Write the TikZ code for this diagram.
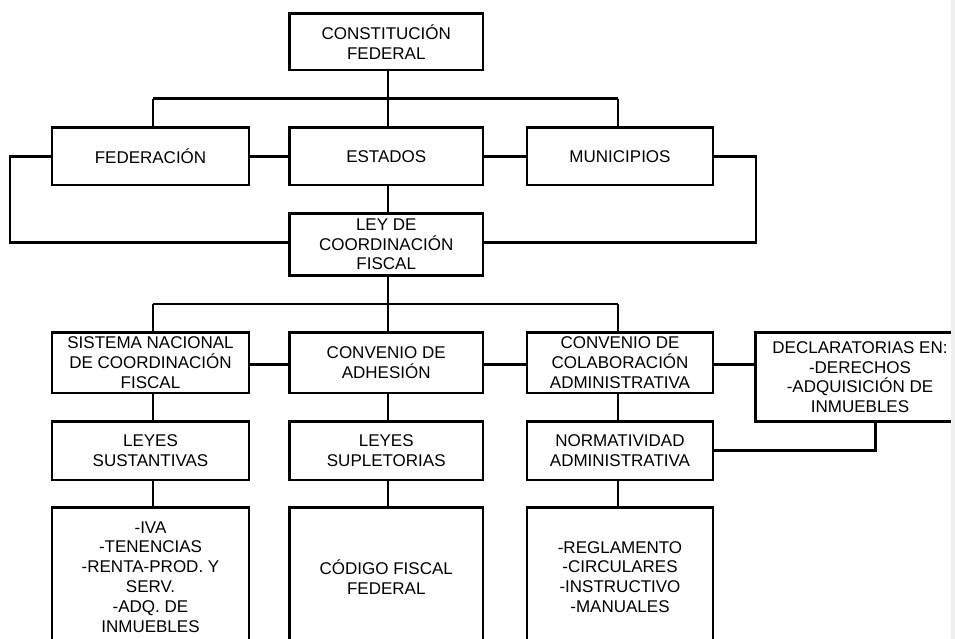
\documentclass[tikz,border=0pt]{standalone}
\usepackage{fontspec}
\setmainfont{Liberation Sans}
\definecolor{stripgray}{RGB}{240,240,240}
\begin{document}
\begin{tikzpicture}[x=1pt,y=-1pt,
  box/.style={draw=black, line width=2.8pt, rectangle, inner sep=0pt, align=center,
    font=\fontsize{17}{19.8}\selectfont},
  conn/.style={draw=black, line width=2.8pt}]
\useasboundingbox (0,0) rectangle (955,639);
\clip (0,0) rectangle (955,639);
% boxes
\node[box, minimum width=193.5pt, minimum height=56.5pt] (con) at (386.25,41.75) {CONSTITUCIÓN\\FEDERAL};
\node[box, minimum width=197pt, minimum height=57.3pt] (fed) at (150.5,156.3) {FEDERACIÓN};
\node[box, minimum width=193.5pt, minimum height=57.3pt] (est) at (386.25,156.3) {ESTADOS};
\node[box, minimum width=186pt, minimum height=57.3pt] (mun) at (620,156.3) {MUNICIPIOS};
\node[box, minimum width=193.5pt, minimum height=61.8pt] (ley) at (386.25,244.4) {LEY DE\\COORDINACIÓN\\FISCAL};
\node[box, minimum width=197pt, minimum height=60.3pt] (sis) at (150.5,362.85) {SISTEMA NACIONAL\\DE COORDINACIÓN\\FISCAL};
\node[box, minimum width=193.5pt, minimum height=60.3pt] (adh) at (386.25,362.85) {CONVENIO DE\\ADHESIÓN};
\node[box, minimum width=186pt, minimum height=60.3pt] (col) at (620,362.85) {CONVENIO DE\\COLABORACIÓN\\ADMINISTRATIVA};
\node[box, minimum width=209pt, minimum height=89pt] (dec) at (860,377.2) {DECLARATORIAS EN:\\-DERECHOS\\-ADQUISICIÓN DE\\INMUEBLES};
\node[box, minimum width=197pt, minimum height=58.3pt] (sus) at (150.5,450.85) {LEYES\\SUSTANTIVAS};
\node[box, minimum width=193.5pt, minimum height=58.3pt] (sup) at (386.25,450.85) {LEYES\\SUPLETORIAS};
\node[box, minimum width=186pt, minimum height=58.3pt] (nor) at (620,450.85) {NORMATIVIDAD\\ADMINISTRATIVA};
\node[box, minimum width=197pt, minimum height=138.3pt] (lst) at (150.5,576.85) {-IVA\\-TENENCIAS\\-RENTA-PROD. Y\\SERV.\\-ADQ. DE\\INMUEBLES};
\node[box, minimum width=193.5pt, minimum height=138.3pt] (cod) at (386.25,576.85) {CÓDIGO FISCAL\\FEDERAL};
\node[box, minimum width=186pt, minimum height=138.3pt] (reg) at (620,576.85) {-REGLAMENTO\\-CIRCULARES\\-INSTRUCTIVO\\-MANUALES};
% coordinates
\coordinate (cL) at (153,98.7);
\coordinate (cM) at (388,98.7);
\coordinate (cR) at (618,98.7);
\coordinate (dL) at (153,304);
\coordinate (dM) at (388,304);
\coordinate (dR) at (618,304);
\coordinate (oL) at (10,242.7);
\coordinate (oR) at (756,242.7);
\coordinate (nd) at (875.6,450.3);
% top tree
\draw[conn] (cL) -- (cR);
\draw[conn] (cM |- con.south) -- (cM);
\draw[conn] (cL) -- (cL |- fed.north);
\draw[conn] (cM) -- (cM |- est.north);
\draw[conn] (cR) -- (cR |- mun.north);
\draw[conn] (fed.east) -- (est.west);
\draw[conn] (est.east) -- (mun.west);
\draw[conn] (fed.west) -| (oL) -- (oL -| ley.west);
\draw[conn] (mun.east) -| (oR) -- (oR -| ley.east);
\draw[conn] (cM |- est.south) -- (cM |- ley.north);
% second tree
\draw[conn] (dL) -- (dR);
\draw[conn] (dM |- ley.south) -- (dM);
\draw[conn] (dL) -- (dL |- sis.north);
\draw[conn] (dM) -- (dM |- adh.north);
\draw[conn] (dR) -- (dR |- col.north);
\draw[conn] ([yshift=-1.8pt]sis.east) -- ([yshift=-1.8pt]adh.west);
\draw[conn] ([yshift=-1.8pt]adh.east) -- ([yshift=-1.8pt]col.west);
\draw[conn] ([yshift=-1.8pt]col.east) -- ([yshift=-1.8pt]col.east -| dec.west);
\draw[conn] (dL |- sis.south) -- (dL |- sus.north);
\draw[conn] (dM |- adh.south) -- (dM |- sup.north);
\draw[conn] (dR |- col.south) -- (dR |- nor.north);
\draw[conn] (nor.east |- nd) -- (nd) -- (nd |- dec.south);
\draw[conn] (dL |- sus.south) -- (dL |- lst.north);
\draw[conn] (dM |- sup.south) -- (dM |- cod.north);
\draw[conn] (dR |- nor.south) -- (dR |- reg.north);
% right strip
\fill[stripgray] (951,0) rectangle (955,639);
\end{tikzpicture}
\end{document}
